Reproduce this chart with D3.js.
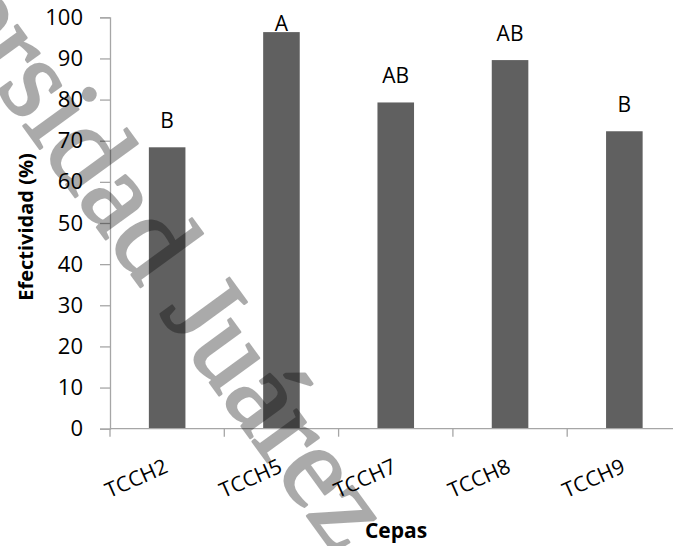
<!DOCTYPE html>
<html>
<head>
<meta charset="utf-8">
<script src="https://cdn.jsdelivr.net/npm/d3@7/dist/d3.min.js"></script>
<style>
  html, body { margin: 0; padding: 0; background: #ffffff; }
  svg { display: block; }
</style>
</head>
<body>
<div id="chart"></div>
<script>
// ---- data ----
const categories = ["TCCH2", "TCCH5", "TCCH7", "TCCH8", "TCCH9"];
const values = [68.4, 96.4, 79.3, 89.6, 72.3];
const groupLetters = ["B", "A", "AB", "AB", "B"];
const yTicks = [0, 10, 20, 30, 40, 50, 60, 70, 80, 90, 100];
const yTitle = "Efectividad (%)";
const xTitle = "Cepas";
const watermarkText = "Universidad Juárez";

(function () {
// ---- layout ----
const W = 673, H = 546;
const pLeft = 110, pRight = 681.5, pTop = 17.3, pBottom = 428.7;
const sans = "'Open Sans', 'Noto Sans', sans-serif";

const svg = d3.select("#chart").append("svg")
  .attr("width", W).attr("height", H);

const x = d3.scaleBand().domain(categories).range([pLeft, pRight])
  .paddingInner(0.68).paddingOuter(0.34);
const y = d3.scaleLinear().domain([0, 100]).range([pBottom, pTop]);

// bars
svg.append("g").selectAll("rect").data(categories).join("rect")
  .attr("x", d => x(d))
  .attr("width", x.bandwidth())
  .attr("y", (d, i) => y(values[i]))
  .attr("height", (d, i) => y(0) - y(values[i]))
  .attr("fill", "#606060");

// y axis
const yAxis = d3.axisLeft(y).tickValues(yTicks).tickSize(10).tickPadding(17);
const gy = svg.append("g").attr("transform", `translate(${pLeft},0)`).call(yAxis);
gy.select(".domain").attr("stroke", "#a6a6a6").attr("stroke-width", 1.3);
gy.selectAll(".tick line").attr("stroke", "#a6a6a6").attr("stroke-width", 1.3);
gy.selectAll(".tick text").attr("font-family", sans).attr("font-size", 22).attr("fill", "#000");

// x axis baseline
svg.append("line")
  .attr("x1", pLeft).attr("x2", W)
  .attr("y1", y(0)).attr("y2", y(0))
  .attr("stroke", "#a6a6a6").attr("stroke-width", 1.3);

// x tick marks between categories
const bounds = d3.range(categories.length + 1).map(i => x.range()[0] + i * x.step());
svg.append("g").selectAll("line").data(bounds).join("line")
  .attr("x1", d => d).attr("x2", d => d)
  .attr("y1", y(0)).attr("y2", y(0) + 8)
  .attr("stroke", "#a6a6a6").attr("stroke-width", 1.3);

// x tick labels (rotated)
svg.append("g").selectAll("text").data(categories).join("text")
  .attr("transform", d => `translate(${x(d) + x.bandwidth() / 2 + 2},${y(0) + 43}) rotate(-24)`)
  .attr("text-anchor", "end")
  .attr("font-family", sans).attr("font-size", 21)
  .attr("fill", "#000")
  .text(d => d);

// group letters
svg.append("g").selectAll("text").data(categories).join("text")
  .attr("x", d => x(d) + x.bandwidth() / 2)
  .attr("y", (d, i) => Math.max(y(values[i]) - 19, 30.5))
  .attr("text-anchor", "middle")
  .attr("font-family", sans).attr("font-size", 21)
  .attr("fill", "#000")
  .text((d, i) => groupLetters[i]);

// axis titles
svg.append("text")
  .attr("transform", `translate(33,${(pTop + pBottom) / 2 + 4}) rotate(-90)`)
  .attr("text-anchor", "middle")
  .attr("font-family", sans).attr("font-size", 20).attr("font-weight", "bold")
  .attr("fill", "#000")
  .text(yTitle);

svg.append("text")
  .attr("x", 396).attr("y", 538)
  .attr("text-anchor", "middle")
  .attr("font-family", sans).attr("font-size", 21).attr("font-weight", "bold")
  .attr("fill", "#000")
  .text(xTitle);

// watermark
svg.append("g").attr("opacity", 0.33)
  .append("text")
  .attr("transform", "translate(336,556) rotate(54)")
  .attr("text-anchor", "end")
  .attr("font-family", "'Liberation Serif', 'DejaVu Serif', serif")
  .attr("font-size", 118)
  .attr("fill", "#000")
  .attr("stroke", "#000")
  .attr("stroke-width", 2.5)
  .attr("stroke-linejoin", "round")
  .text(watermarkText);
})();
</script>
</body>
</html>
